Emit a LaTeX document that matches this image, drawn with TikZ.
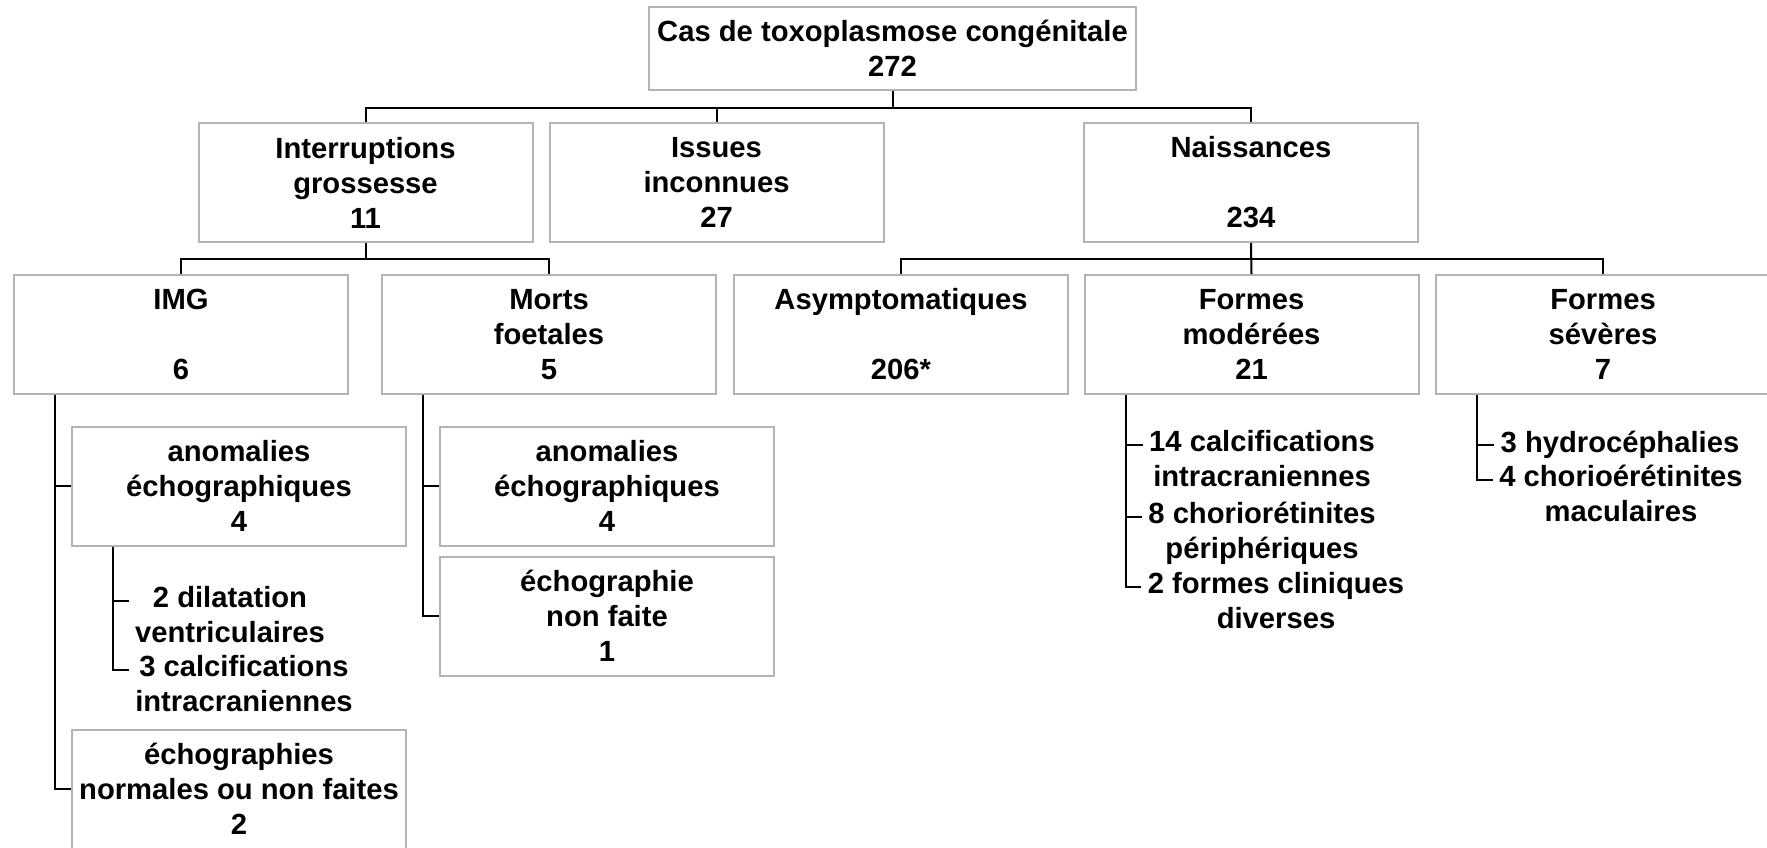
\documentclass[tikz,border=0pt]{standalone}
\usepackage{fontspec}
\setmainfont{Liberation Sans}
\usepackage{tikz}
\definecolor{boxgray}{RGB}{180,180,180}
\tikzstyle{txt} = [align=center, inner sep=0pt, font=\fontsize{14.6}{17.5}\selectfont\bfseries]
\tikzstyle{box} = [txt, rectangle, draw=boxgray, line width=1pt, minimum width=167pt, minimum height=59.5pt]
\tikzstyle{note} = [txt, inner sep=3pt, execute at begin node=\strut, execute at end node=\strut]
\tikzstyle{line} = [line width=1pt, black]

\begin{document}
\begin{tikzpicture}[x=0.5pt, y=-0.5pt]

    \useasboundingbox (0,0) rectangle (1767,847);
    \clip (0,0) rectangle (1767,847);

    % Nodes
    \node (root) [box, minimum width=243.5pt, minimum height=41.5pt] at (892.5,48.5) {Cas de toxoplasmose congénitale\\272};
    \node (interr) [box] at (365.5,182.5) {Interruptions\\grossesse\\11};
    \node (issues) [box] at (716.5,182.5) {Issues\\inconnues\\27};
    \node (naiss) [box] at (1251,182.5) {Naissances\\[17.5pt]234};

    \node (img) [box] at (181,334.5) {IMG\\[17.5pt]6};
    \node (morts) [box] at (549,334.5) {Morts\\foetales\\5};
    \node (asym) [box] at (901,334.5) {Asymptomatiques\\[17.5pt]206*};
    \node (fmod) [box] at (1251.5,334.5) {Formes\\modérées\\21};
    \node (fsev) [box] at (1603,334.5) {Formes\\sévères\\7};

    \node (anomimg) [box] at (239,486) {anomalies\\échographiques\\4};
    \node (echoimg) [box] at (239,789) {échographies\\normales ou non faites\\2};
    \node (anommorts) [box] at (607,486) {anomalies\\échographiques\\4};
    \node (echomorts) [box] at (607,616) {échographie\\non faite\\1};

    \node (dil) [note] at (230,619.5) {2 dilatation\\ventriculaires};
    \node (calc) [note] at (244,689) {3 calcifications\\intracraniennes};
    \node (mod1) [note] at (1262,464) {14 calcifications\\intracraniennes};
    \node (mod2) [note] at (1262,535.5) {8 choriorétinites\\périphériques};
    \node (mod3) [note] at (1276,606) {2 formes cliniques\\diverses};
    \node (sev1) [note] at (1620,445) {3 hydrocéphalies};
    \node (sev2) [note] at (1621,498.5) {4 chorioérétinites\\maculaires};

    % Lines
    \draw [line] (root.south) -- ++(0,17) -| (interr.north);
    \draw [line] (root.south) -- ++(0,17) -| (issues.north);
    \draw [line] (root.south) -- ++(0,17) -| (naiss.north);

    \draw [line] (interr.south) -- ++(0,16) -| (img.north);
    \draw [line] (interr.south) -- ++(0,16) -| (morts.north);
    \draw [line] (naiss.south) -- ++(0,16) -| (asym.north);
    \draw [line] (naiss.south) -- (fmod.north);
    \draw [line] (naiss.south) -- ++(0,16) -| (fsev.north);

    \draw [line] ([xshift=21pt]img.south west) |- (anomimg.west);
    \draw [line] ([xshift=21pt]img.south west) |- (echoimg.west);
    \draw [line] ([xshift=21pt]anomimg.south west) |- ([yshift=9.5pt]dil.west);
    \draw [line] ([xshift=21pt]anomimg.south west) |- ([yshift=9.5pt]calc.west);
    \draw [line] ([xshift=21pt]morts.south west) |- (anommorts.west);
    \draw [line] ([xshift=21pt]morts.south west) |- (echomorts.west);

    \draw [line] ([xshift=21pt]fmod.south west) |- ([yshift=9.5pt]mod1.west);
    \draw [line] ([xshift=21pt]fmod.south west) |- ([yshift=9.5pt]mod2.west);
    \draw [line] ([xshift=21pt]fmod.south west) |- ([yshift=9.5pt]mod3.west);
    \draw [line] ([xshift=21pt]fsev.south west) |- (sev1.west);
    \draw [line] ([xshift=21pt]fsev.south west) |- ([yshift=9.5pt]sev2.west);

\end{tikzpicture}
\end{document}
